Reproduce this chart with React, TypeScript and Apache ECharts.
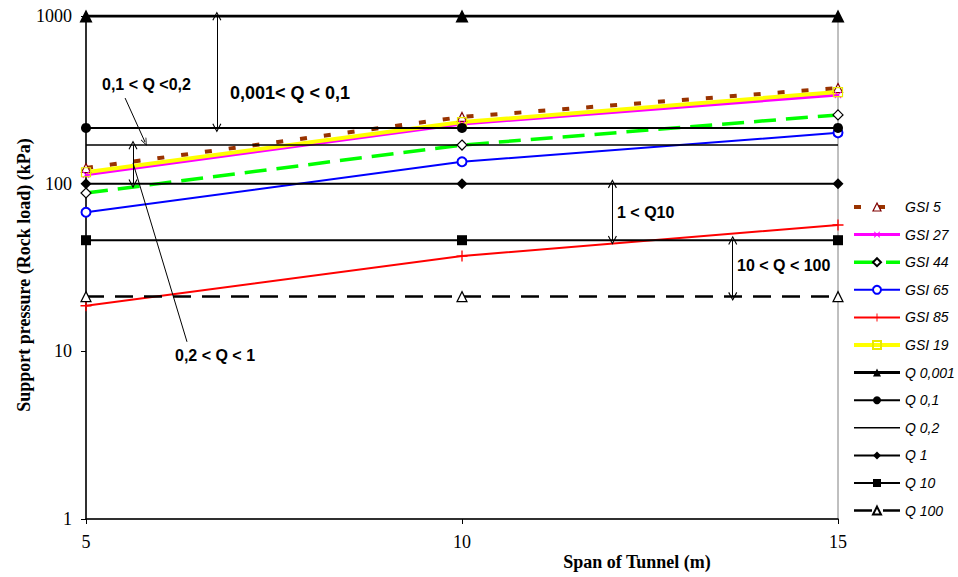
import React, { useEffect, useRef } from "react";
import * as echarts from "echarts";

// ---- data ----
const spans = [5, 10, 15];
const gsi5 = [124, 250, 372];
const gsi27 = [113, 227, 338];
const gsi44 = [88, 170, 257];
const gsi65 = [67.5, 135, 201];
const gsi85 = [18.7, 37, 56.7];
const gsi19 = [117, 233, 352];
const q0001 = [1000, 1000, 1000];
const q01 = [215, 215, 215];
const q02 = [170, 170, 170];
const q1 = [100, 100, 100];
const q10 = [46, 46, 46];
const q100 = [21.2, 21.2, 21.2];
const xTicks = [5, 10, 15];
const yTicks = [1, 10, 100, 1000];

const legendNames = [
  "GSI 5", "GSI 27", "GSI 44", "GSI 65", "GSI 85", "GSI 19",
  "Q 0,001", "Q 0,1", "Q 0,2", "Q 1", "Q 10", "Q 100",
];

// annotation arrows: x position (span) and the two Q lines they join
const arrowX = [6.74, 5.625, 12.0, 13.6];
const arrowFrom = [q0001[0], q02[0], q1[0], q10[0]];
const arrowTo = [q01[0], q1[0], q10[0], q100[0]];
// leader lines [x1, y1, x2, y2]
const leader1 = [5.52, 324, 5.785, 177];
const leader2 = [5.625, 133, 6.343, 11.4];

const annotationTexts = ["0,1 < Q <0,2", "0,001< Q < 0,1", "0,2 < Q < 1", "1 < Q10", "10 < Q < 100"];

const PLUS = "path://M-0.6,-5 h1.2 v10 h-1.2 z M-5,-0.6 h10 v1.2 h-10 z";
const CHEVRON = "path://M5,0 L10,9 L8.9,9.6 L5,2.4 L1.1,9.6 L0,9 Z";

function pts(vals: number[]) {
  return spans.map((x, i) => [x, vals[i]]);
}

export default function App() {
  const ref = useRef<HTMLDivElement>(null);
  useEffect(() => {
    if (!ref.current) return;
    const chart = echarts.init(ref.current, null, { renderer: "svg" });

    const arrowLines = arrowX.map((x, i) => [
      { coord: [x, arrowFrom[i]] },
      { coord: [x, arrowTo[i]] },
    ]);

    const sans = "'Liberation Sans', Arial, sans-serif";
    const serif = "'Liberation Serif', 'Times New Roman', serif";

    const legendData = legendNames.map((n) =>
      n === "GSI 5"
        ? { name: n, itemStyle: { color: "#fff", borderColor: "#800000", borderWidth: 1.2 } }
        : { name: n }
    );

    const option: any = {
      animation: false,
      backgroundColor: "#ffffff",
      grid: {
        left: 86,
        right: 120,
        top: 16,
        bottom: 58,
        show: true,
        borderColor: "#808080",
        borderWidth: 1,
        backgroundColor: "transparent",
      },
      xAxis: {
        type: "value",
        min: xTicks[0],
        max: xTicks[xTicks.length - 1],
        interval: 5,
        axisLine: { show: true, lineStyle: { color: "#000", width: 1.5 } },
        axisTick: { show: true, length: 5, lineStyle: { color: "#000" } },
        splitLine: { show: false },
        axisLabel: { color: "#000", fontFamily: serif, fontSize: 18, margin: 14 },
      },
      yAxis: {
        type: "log",
        logBase: 10,
        min: yTicks[0],
        max: yTicks[yTicks.length - 1],
        axisLine: { show: true, lineStyle: { color: "#000", width: 1.5 } },
        axisTick: { show: true, length: 5, lineStyle: { color: "#000" } },
        minorTick: { show: false },
        splitLine: { show: false },
        axisLabel: {
          color: "#000", fontFamily: serif, fontSize: 18, margin: 14,
          formatter: (v: number) => String(Math.round(v)),
        },
      },
      legend: {
        orient: "vertical",
        left: 852,
        top: 200,
        itemWidth: 46,
        itemHeight: 10,
        itemGap: 13.6,
        padding: 0,
        data: legendData,
        lineStyle: { width: "inherit" },
        textStyle: { fontFamily: sans, fontStyle: "italic", fontSize: 14, color: "#000" },
      },
      series: [
        {
          name: "GSI 5", type: "line", data: pts(gsi5),
          lineStyle: { color: "#993300", width: 4, type: [7, 17] },
          symbol: "triangle", symbolSize: 9,
          itemStyle: { color: "#fff", borderColor: "#800000", borderWidth: 1.2 },
        },
        {
          name: "GSI 27", type: "line", data: pts(gsi27),
          lineStyle: { color: "#ff00ff", width: 3 },
          symbol: PLUS, symbolRotate: 45, symbolSize: 9,
          itemStyle: { color: "#ff00ff" },
        },
        {
          name: "GSI 44", type: "line", data: pts(gsi44),
          lineStyle: { color: "#00ff00", width: 3.5, type: [22, 10] },
          symbol: "diamond", symbolSize: 10,
          itemStyle: { color: "#fff", borderColor: "#000", borderWidth: 1.2 },
        },
        {
          name: "GSI 65", type: "line", data: pts(gsi65),
          lineStyle: { color: "#0000ff", width: 2 },
          symbol: "emptyCircle", symbolSize: 9,
          itemStyle: { color: "#0000ff", borderColor: "#0000ff", borderWidth: 1.2 },
        },
        {
          name: "GSI 85", type: "line", data: pts(gsi85),
          lineStyle: { color: "#ff0000", width: 2 },
          symbol: PLUS, symbolSize: 11,
          itemStyle: { color: "#ff0000" },
        },
        {
          name: "GSI 19", type: "line", data: pts(gsi19),
          lineStyle: { color: "#ffff00", width: 4 },
          symbol: "rect", symbolSize: 9,
          itemStyle: { color: "transparent", borderColor: "#e8e800", borderWidth: 1.2 },
        },
        {
          name: "Q 0,001", type: "line", data: pts(q0001),
          lineStyle: { color: "#000", width: 3 },
          symbol: "triangle", symbolSize: 13,
          itemStyle: { color: "#000" },
        },
        {
          name: "Q 0,1", type: "line", data: pts(q01),
          lineStyle: { color: "#000", width: 2 },
          symbol: "circle", symbolSize: 10,
          itemStyle: { color: "#000" },
        },
        {
          name: "Q 0,2", type: "line", data: pts(q02),
          lineStyle: { color: "#000", width: 1.5 },
          symbol: "circle", showSymbol: false,
          itemStyle: { color: "rgba(0,0,0,0)", borderWidth: 0 },
          markLine: {
            silent: true,
            symbol: ["none", "none"],
            label: { show: false },
            lineStyle: { color: "#000", width: 1, type: "solid" },
            data: [
              ...arrowLines.map((d) => [
                { ...d[0], symbol: CHEVRON, symbolSize: [9, 9] },
                { ...d[1], symbol: CHEVRON, symbolSize: [9, 9] },
              ]),
              [
                { coord: [leader1[0], leader1[1]], symbol: "none" },
                { coord: [leader1[2], leader1[3]], symbol: CHEVRON, symbolSize: [6, 8] },
              ],
              [
                { coord: [leader2[0], leader2[1]], symbol: "none" },
                { coord: [leader2[2], leader2[3]], symbol: "none" },
              ],
            ],
          },
        },
        {
          name: "Q 1", type: "line", data: pts(q1),
          lineStyle: { color: "#000", width: 2 },
          symbol: "diamond", symbolSize: 11,
          itemStyle: { color: "#000" },
        },
        {
          name: "Q 10", type: "line", data: pts(q10),
          lineStyle: { color: "#000", width: 2 },
          symbol: "rect", symbolSize: 10,
          itemStyle: { color: "#000" },
        },
        {
          name: "Q 100", type: "line", data: pts(q100),
          lineStyle: { color: "#000", width: 2.5, type: [18, 11] },
          symbol: "triangle", symbolSize: 10,
          itemStyle: { color: "#fff", borderColor: "#000", borderWidth: 1.2 },
        },
      ],
      graphic: [
        { type: "text", left: 102, top: 76, style: { text: annotationTexts[0], font: `bold 16px ${sans}`, fill: "#000" } },
        { type: "text", left: 230, top: 84, style: { text: annotationTexts[1], font: `bold 18px ${sans}`, fill: "#000" } },
        { type: "text", left: 175, top: 347, style: { text: annotationTexts[2], font: `bold 16px ${sans}`, fill: "#000" } },
        { type: "text", left: 617, top: 204, style: { text: annotationTexts[3], font: `bold 16px ${sans}`, fill: "#000" } },
        { type: "text", left: 737, top: 257, style: { text: annotationTexts[4], font: `bold 16px ${sans}`, fill: "#000" } },
        {
          type: "text", x: 637, y: 562,
          style: { text: "Span of Tunnel (m)", font: `bold 18px ${serif}`, fill: "#000", align: "center", verticalAlign: "middle" },
        },
        {
          type: "text", x: 24, y: 275, rotation: Math.PI / 2,
          style: { text: "Support pressure (Rock load) (kPa)", font: `bold 18px ${serif}`, fill: "#000", align: "center", verticalAlign: "middle" },
        },
      ],
    };
    chart.setOption(option);
    return () => chart.dispose();
  }, []);
  return <div ref={ref} style={{ position: "fixed", left: 0, top: 0, width: 958, height: 577 }} />;
}
